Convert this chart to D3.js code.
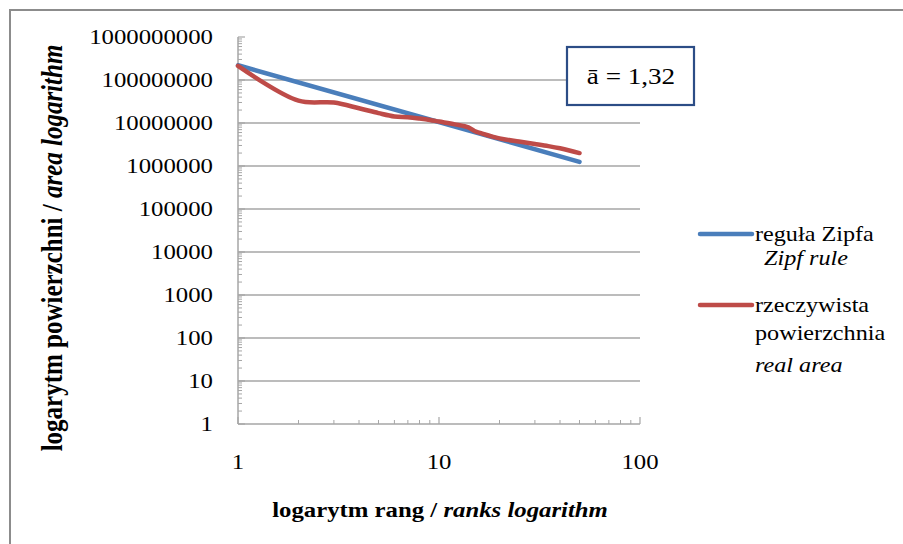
<!DOCTYPE html>
<html><head><meta charset="utf-8">
<script src="https://cdn.jsdelivr.net/npm/d3@7"></script>
<style>body{margin:0;background:#fff}svg{display:block}</style>
</head><body>
<script>
const yTickValues = [1,10,100,1000,10000,100000,1000000,10000000,100000000,1000000000];
const yTickLabels = ["1","10","100","1000","10000","100000","1000000","10000000","100000000","1000000000"];
const xTickValues = [1,10,100];
const xTickLabels = ["1","10","100"];
const zipfRanks = [1, 50];
const zipfValues = [2.2e8, 1.25e6];
const realRanks = [1,2,3,4,5,6,7,8,9,10,12,14,15,16,20,25,30,35,40,45,50];
const realValues = [2.12e8,3.3e7,3.0e7,2.2e7,1.7e7,1.42e7,1.36e7,1.27e7,1.18e7,1.08e7,9.3e6,7.9e6,6.5e6,5.9e6,4.4e6,3.7e6,3.25e6,2.9e6,2.58e6,2.27e6,2.0e6];
const seriesNames = ["reguła Zipfa","rzeczywista powierzchnia"];
const annotation = "ā = 1,32";

const W=903,H=544, SX=1.18, FS=21;
const FONT="Liberation Serif";
const svg=d3.select("body").append("svg").attr("width",W).attr("height",H);
svg.append("rect").attr("x",10).attr("y",10).attr("width",W).attr("height",H).attr("fill","#fff").attr("stroke","#8c8c8c").attr("stroke-width",2);

const x=d3.scaleLog().domain([1,100]).range([238,640]);
const y=d3.scaleLog().domain([1,1e9]).range([424,37]);

function txt(px,py,anchor,parts,size){
  const g=svg.append("g").attr("transform",`translate(${px},${py}) scale(${SX},1)`);
  const t=g.append("text").attr("text-anchor",anchor).attr("font-size",size||FS).attr("fill","#000").style("font-family",FONT);
  parts.forEach(p=>t.append("tspan").text(p.t).attr("font-weight",p.b?"bold":"normal").attr("font-style",p.i?"italic":"normal"));
  return t;
}

// gridlines
svg.append("g").selectAll("line").data(yTickValues.slice(1,-1)).join("line")
  .attr("x1",x(1)).attr("x2",x(100)).attr("y1",d=>y(d)).attr("y2",d=>y(d))
  .attr("stroke","#a6a6a6").attr("stroke-width",1.3);

// y minor ticks
const yMinor=[]; for(let e=0;e<9;e++) for(let m=2;m<=9;m++) yMinor.push(m*Math.pow(10,e));
svg.append("g").selectAll("line").data(yMinor).join("line")
  .attr("x1",x(1)).attr("x2",x(1)+4).attr("y1",d=>y(d)).attr("y2",d=>y(d)).attr("stroke","#a6a6a6").attr("stroke-width",1);
svg.append("g").selectAll("line").data(yTickValues).join("line")
  .attr("x1",x(1)).attr("x2",x(1)+7).attr("y1",d=>y(d)).attr("y2",d=>y(d)).attr("stroke","#a6a6a6").attr("stroke-width",1.2);
// x minor ticks
const xMinor=[]; for(let e=0;e<2;e++) for(let m=2;m<=9;m++) xMinor.push(m*Math.pow(10,e));
svg.append("g").selectAll("line").data(xMinor).join("line")
  .attr("y1",y(1)).attr("y2",y(1)-4).attr("x1",d=>x(d)).attr("x2",d=>x(d)).attr("stroke","#a6a6a6").attr("stroke-width",1);
svg.append("g").selectAll("line").data(xTickValues).join("line")
  .attr("y1",y(1)).attr("y2",y(1)-7).attr("x1",d=>x(d)).attr("x2",d=>x(d)).attr("stroke","#a6a6a6").attr("stroke-width",1.2);
// axis lines
svg.append("line").attr("x1",x(1)).attr("x2",x(1)).attr("y1",y(1e9)).attr("y2",y(1)).attr("stroke","#a6a6a6").attr("stroke-width",1.5);
svg.append("line").attr("x1",x(1)).attr("x2",x(100)).attr("y1",y(1)).attr("y2",y(1)).attr("stroke","#a6a6a6").attr("stroke-width",1.5);

// tick labels
yTickValues.forEach((v,i)=>txt(213,y(v)+7,"end",[{t:yTickLabels[i]}]));
xTickValues.forEach((v,i)=>txt(x(v),469,"middle",[{t:xTickLabels[i]}]));

// lines
const line=d3.line().x(d=>x(d[0])).y(d=>y(d[1]));
svg.append("path").datum(zipfRanks.map((r,i)=>[r,zipfValues[i]])).attr("d",line)
  .attr("fill","none").attr("stroke","#4a7ebb").attr("stroke-width",4.5).attr("stroke-linecap","round");
svg.append("path").datum(realRanks.map((r,i)=>[r,realValues[i]])).attr("d",line.curve(d3.curveCatmullRom))
  .attr("fill","none").attr("stroke","#be4b48").attr("stroke-width",4.5).attr("stroke-linecap","round");

// annotation box
svg.append("rect").attr("x",567).attr("y",47).attr("width",127).attr("height",58).attr("fill","#fff").attr("stroke","#2c4d86").attr("stroke-width",2.2);
txt(631,84,"middle",[{t:annotation}],23);

// legend
svg.append("line").attr("x1",700).attr("x2",752).attr("y1",234).attr("y2",234).attr("stroke","#4a7ebb").attr("stroke-width",4.5).attr("stroke-linecap","round");
svg.append("line").attr("x1",700).attr("x2",752).attr("y1",305).attr("y2",305).attr("stroke","#be4b48").attr("stroke-width",4.5).attr("stroke-linecap","round");
txt(755,241,"start",[{t:seriesNames[0]}],20.5);
txt(764,265,"start",[{t:"Zipf rule",i:true}],20.5);
txt(755,312,"start",[{t:"rzeczywista"}],20.5);
txt(755,340,"start",[{t:"powierzchnia"}],20.5);
txt(755,372,"start",[{t:"real area",i:true}],20.5);

// axis titles
txt(440,517,"middle",[{t:"logarytm rang / ",b:true},{t:"ranks logarithm",b:true,i:true}],21);
svg.append("text").attr("transform","translate(62,248) scale(1.18,1) rotate(-90)").attr("text-anchor","middle")
  .attr("font-size",25).attr("font-weight","bold").style("font-family",FONT)
  .call(t=>{t.append("tspan").text("logarytm powierzchni / ");t.append("tspan").attr("font-style","italic").text("area logarithm");});
</script>
</body></html>
